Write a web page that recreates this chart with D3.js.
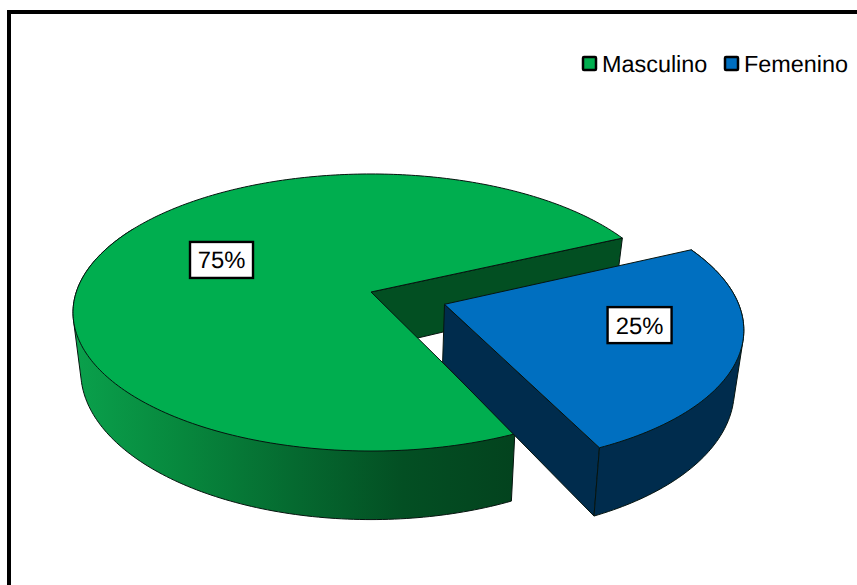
<!DOCTYPE html>
<html>
<head>
<meta charset="utf-8">
<script src="https://cdn.jsdelivr.net/npm/d3@7"></script>
<style>
  html, body { margin: 0; padding: 0; background: #fff; }
  svg { display: block; font-family: "Liberation Sans", Arial, sans-serif; text-rendering: geometricPrecision; }
</style>
</head>
<body>
<svg id="chart" width="857" height="585"></svg>
<script>
// Sex distribution, drawn as an exploded 3D pie
const categories = ["Masculino", "Femenino"];
const shares = [75, 25];
const shareLabels = ["75%", "25%"];
const topColors = ["#00AE4F", "#006FC0"];
const cutWallColors = ["#024F22", "#002C4D"];
const outerWallColors = ["url(#greenWall)", "#002C4D"];
const explodeFractions = [0, 0.262];
const sliceRadii = [1, 0.985];
// Where the visible part of each slice's rim stops, in degrees along the pie
const rimEndAngles = [300, 515];

const rad = d => d * Math.PI / 180;
const svg = d3.select("#chart");

// Perspective planes for the top and bottom faces of the disc
const topPlane = { cx: 371, cy: 292, rx: 294.7, ry: 135.5, k: 0.148 };
const bottomPlane = { cx: 371, cy: 349, rx: 287, ry: 145, k: 0.15 };

function project(plane, x, y) {
  const w = 1 - plane.k * y;
  return [plane.cx + plane.rx * x / w, plane.cy + plane.ry * y / w];
}

const pie = d3.pie().sort(null).value(d => d)
  .startAngle(rad(155)).endAngle(rad(155 + 360));
const slices = pie(shares);

// Disc coordinates of a point at an angle (clockwise from the back) and radius
const disc = (angle, r, off) => [off[0] + r * Math.sin(angle), off[1] - r * Math.cos(angle)];

function arcPoints(plane, a0, a1, r, off) {
  const n = Math.max(2, Math.ceil(Math.abs(a1 - a0) / rad(1)));
  return d3.range(n + 1).map(i => {
    const p = disc(a0 + (a1 - a0) * i / n, r, off);
    return project(plane, p[0], p[1]);
  });
}

const line = d3.line().curve(d3.curveLinearClosed);

// Frame, running off the right and bottom edges of the page
svg.append("path")
  .attr("d", "M9,600V12H880")
  .attr("fill", "none").attr("stroke", "#000").attr("stroke-width", 4);

const grad = svg.append("defs").append("linearGradient")
  .attr("id", "greenWall").attr("gradientUnits", "userSpaceOnUse")
  .attr("x1", 73).attr("x2", 513).attr("y1", 0).attr("y2", 0);
[[0, "#0AA14C"], [0.25, "#07873D"], [0.5, "#056A30"], [0.75, "#034F23"], [1, "#03431E"]]
  .forEach(s => grad.append("stop").attr("offset", s[0]).attr("stop-color", s[1]));

const edge = sel => sel.attr("stroke", "#06140f").attr("stroke-width", 1).attr("stroke-linejoin", "round");

// Painted back to front: cut face, outer rim, then the top face of each slice
slices.forEach((s, i) => {
  const mid = (s.startAngle + s.endAngle) / 2;
  const off = [explodeFractions[i] * Math.sin(mid), -explodeFractions[i] * Math.cos(mid)];
  const r = sliceRadii[i];
  const g = svg.append("g");
  const apexTop = project(topPlane, off[0], off[1]);
  const apexBottom = project(bottomPlane, off[0], off[1]);

  // The slice's closing edge is the cut face turned toward the viewer
  const cutEnd = disc(s.endAngle, r, off);
  g.append("path")
    .attr("d", line([apexTop, project(topPlane, cutEnd[0], cutEnd[1]),
                     project(bottomPlane, cutEnd[0], cutEnd[1]), apexBottom]))
    .attr("fill", cutWallColors[i]).call(edge);

  // Outer rim: the hull of the visible part of the top and bottom arcs
  const rimEnd = rad(rimEndAngles[i]);
  const hull = d3.polygonHull(
    arcPoints(topPlane, s.startAngle, rimEnd, r, off)
      .concat(arcPoints(bottomPlane, s.startAngle, rimEnd, r, off)));
  g.append("path").attr("d", line(hull))
    .attr("fill", outerWallColors[i]).call(edge);

  g.append("path")
    .attr("d", line([apexTop].concat(arcPoints(topPlane, s.startAngle, s.endAngle, r, off))))
    .attr("fill", topColors[i]).call(edge);
});

// Value labels in white boxes
const labelAngles = [295, 103];
const labelRadii = [0.58, 0.65];
const boxW = [63, 64], boxH = 36;
slices.forEach((s, i) => {
  const mid = (s.startAngle + s.endAngle) / 2;
  const off = [explodeFractions[i] * Math.sin(mid), -explodeFractions[i] * Math.cos(mid)];
  const p = disc(rad(labelAngles[i]), labelRadii[i], off);
  const c = project(topPlane, p[0], p[1]);
  svg.append("rect")
    .attr("x", c[0] - boxW[i] / 2).attr("y", c[1] - boxH / 2)
    .attr("width", boxW[i]).attr("height", boxH)
    .attr("fill", "#fff").attr("stroke", "#000").attr("stroke-width", 2.4);
  svg.append("text")
    .attr("x", c[0]).attr("y", c[1] + 8.5)
    .attr("text-anchor", "middle").attr("font-size", 23.8).attr("fill", "#000")
    .text(shareLabels[i]);
});

// Legend
const legendX = d3.scaleOrdinal().domain(categories).range([583, 725]);
categories.forEach((name, i) => {
  const x = legendX(name);
  svg.append("rect")
    .attr("x", x).attr("y", 57).attr("width", 13).attr("height", 13).attr("rx", 1)
    .attr("fill", topColors[i]).attr("stroke", "#000").attr("stroke-width", 2.5);
  svg.append("text")
    .attr("x", x + 19).attr("y", 72)
    .attr("font-size", 23.4).attr("fill", "#000")
    .text(name);
});
</script>
</body>
</html>
